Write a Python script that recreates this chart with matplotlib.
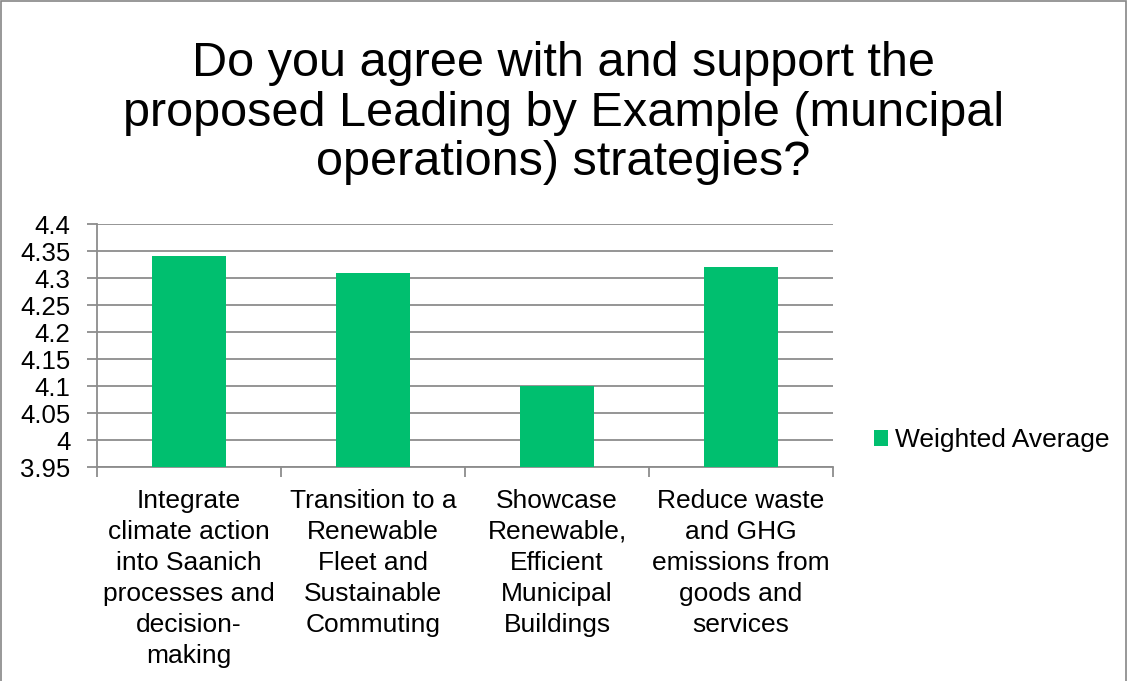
import numpy as np
import matplotlib.pyplot as plt
from matplotlib.patches import Rectangle

plt.rcParams['font.family'] = ['Liberation Sans', 'DejaVu Sans']

title = 'Do you agree with and support the\nproposed Leading by Example (muncipal\noperations) strategies?'
categories = [
    'Integrate\nclimate action\ninto Saanich\nprocesses and\ndecision-\nmaking',
    'Transition to a\nRenewable\nFleet and\nSustainable\nCommuting',
    'Showcase\nRenewable,\nEfficient\nMunicipal\nBuildings',
    'Reduce waste\nand GHG\nemissions from\ngoods and\nservices',
]
weighted_avg = [4.34, 4.31, 4.10, 4.32]
y_ticks = [3.95, 4.0, 4.05, 4.1, 4.15, 4.2, 4.25, 4.3, 4.35, 4.4]
y_tick_labels = ['3.95', '4', '4.05', '4.1', '4.15', '4.2', '4.25', '4.3', '4.35', '4.4']

green = '#00BF6F'
grid_gray = '#8C8C8C'

fig = plt.figure(figsize=(11.27, 6.81), dpi=100)
ax = fig.add_axes([97 / 1127, 1 - 467 / 681, (833 - 97) / 1127, (467 - 224) / 681])

x = np.arange(len(categories))
ax.bar(x, [v - 3.95 for v in weighted_avg], bottom=3.95, width=0.4,
       color=green, zorder=3, label='Weighted Average')

ax.set_xlim(-0.5, len(categories) - 0.5)
ax.set_ylim(3.95, 4.4)
ax.set_yticks(y_ticks)
ax.set_yticklabels(y_tick_labels, fontsize=18.5)
ax.yaxis.grid(True, color=grid_gray, linewidth=1.3, zorder=0)

# category labels under bars, tick marks at category boundaries
ax.set_xticks(np.arange(-0.5, len(categories), 1.0))
ax.set_xticklabels([])
ax.tick_params(axis='x', direction='out', length=7, color=grid_gray, width=1.3)
ax.tick_params(axis='y', direction='out', length=7, color=grid_gray, width=1.3, pad=12)
for i, lab in enumerate(categories):
    ax.text(i, 3.91, lab, ha='center', va='top', fontsize=19,
            linespacing=1.37, transform=ax.transData)

for side in ['top', 'right']:
    ax.spines[side].set_visible(False)
ax.spines['left'].set_color(grid_gray)
ax.spines['bottom'].set_color(grid_gray)
ax.spines['left'].set_linewidth(1.3)
ax.spines['bottom'].set_linewidth(1.3)

fig.text(0.5, 1 - 113 / 681, title, ha='center', va='center', fontsize=35,
         linespacing=1.13)

fig.legend(loc='center left', bbox_to_anchor=(863 / 1127, 1 - 440 / 681),
           frameon=False, fontsize=19, handlelength=0.55, handleheight=0.55,
           handletextpad=0.25, borderaxespad=0)

fig.patches.append(Rectangle((0.5 / 1127, -0.01), 1 - 1.5 / 1127, 1.0 - 1 / 681 + 0.01,
                             transform=fig.transFigure, fill=False,
                             edgecolor='#868686', linewidth=1.2))

fig.savefig('out.png', dpi=100)
plt.close(fig)
